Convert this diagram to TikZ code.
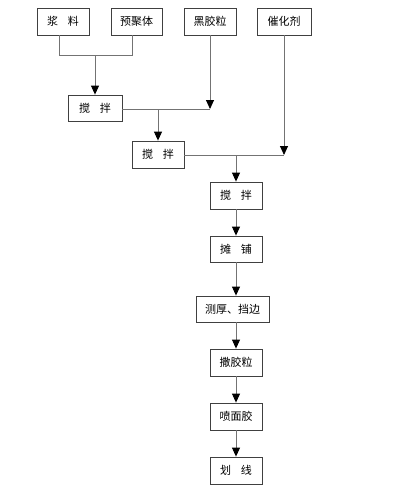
\documentclass[tikz,border=0pt]{standalone}
\usepackage{fontspec}
\setmainfont{Noto Sans CJK SC}
\usetikzlibrary{arrows.meta}
\newcommand{\gapsp}{\hspace{0.9em}}
\begin{document}
\begin{tikzpicture}[x=1pt,y=-1pt,
  box/.style={draw=black!75,line width=0.8pt,minimum height=27pt,inner sep=0pt,font=\fontsize{11}{13}\selectfont},
  conn/.style={draw=black!55,line width=0.9pt},
  arr/.style={conn,-{Triangle[width=8pt,length=9pt]},arrows={[fill=black,color=black]}}]
\useasboundingbox[fill=white] (0,0) rectangle (410,504);
\node[box,minimum width=52pt] (jl) at (63,21.5) {浆\gapsp 料};
\node[box,minimum width=51pt] (yjt) at (136.5,21.5) {预聚体};
\node[box,minimum width=52pt] (hjl) at (210,21.5) {黑胶粒};
\node[box,minimum width=54pt] (chj) at (284,21.5) {催化剂};
\node[box,minimum width=54pt,minimum height=26pt] (jb1) at (95,108) {搅\gapsp 拌};
\node[box,minimum width=52pt] (jb2) at (158,154.5) {搅\gapsp 拌};
\node[box,minimum width=52pt] (jb3) at (236,195.5) {搅\gapsp 拌};
\node[box,minimum width=52pt,minimum height=26pt] (tp) at (236,249) {摊\gapsp 铺};
\node[box,minimum width=73pt,minimum height=26pt] (ch) at (232.5,309) {测厚、挡边};
\node[box,minimum width=52pt] (sjl) at (236,362.5) {撒胶粒};
\node[box,minimum width=52pt] (pmj) at (236,416.5) {喷面胶};
\node[box,minimum width=52pt] (hx) at (236,470.5) {划\gapsp 线};
% bracket from jl and yjt
\coordinate (bl) at (59,55);
\coordinate (br) at (132,55);
\coordinate (bm) at (95,55);
\coordinate (j1) at (158,109);
\coordinate (j2) at (236,155);
\draw[conn] (jl.south -| bl) -- (bl) -- (br) -- (yjt.south -| br);
\draw[arr] (bm) -- (jb1.north);
\draw[arr] (hjl.south) -- (hjl.south |- j1);
\draw[conn] (jb1.east |- j1) -- (hjl.south |- j1);
\draw[arr] (j1) -- (jb2.north);
\draw[arr] (chj.south) -- (chj.south |- j2);
\draw[conn] (jb2.east |- j2) -- (chj.south |- j2);
\draw[arr] (j2) -- (jb3.north);
\draw[arr] (jb3.south) -- (tp.north);
\draw[arr] (tp.south) -- (tp.south |- ch.north);
\draw[arr] (tp.south |- ch.south) -- (sjl.north);
\draw[arr] (sjl.south) -- (pmj.north);
\draw[arr] (pmj.south) -- (hx.north);
\end{tikzpicture}
\end{document}
